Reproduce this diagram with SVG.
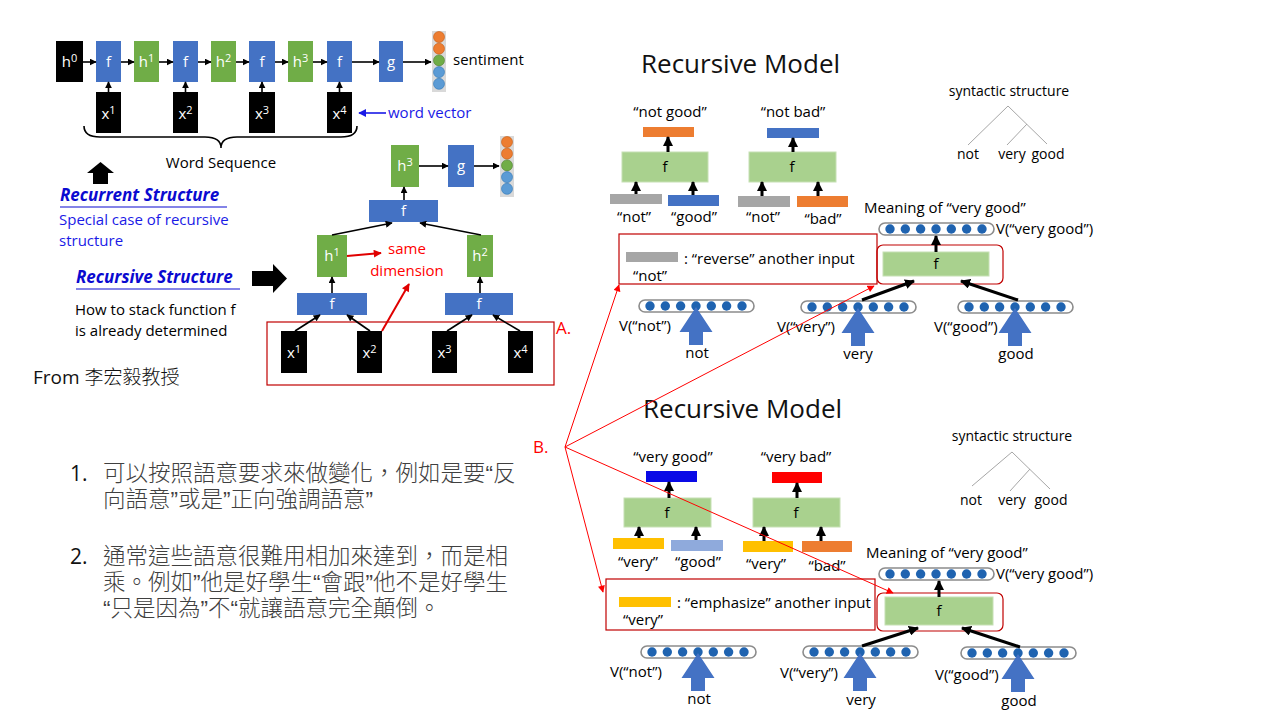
<svg xmlns="http://www.w3.org/2000/svg" xmlns:xlink="http://www.w3.org/1999/xlink" width="1280" height="720" viewBox="0 0 1280 720">
  <style>
    .t { font-family: "Open Sans", "Noto Sans", "Liberation Sans", sans-serif; font-size: 15px; fill: #000; }
    .s14 { font-size: 14px; }
    .w { fill: #fff; text-anchor: middle; }
    .c { text-anchor: middle; }
    .red { fill: #ff0000; }
    .bluet { fill: #1a1ae6; }
    .title { font-family: "Open Sans", "Noto Sans", "Liberation Sans", sans-serif; font-size: 26px; fill: #111; }
    .zh { font-family: "Liberation Sans", "Noto Sans CJK TC", "Noto Sans CJK SC", sans-serif; font-size: 22.5px; fill: #404040; font-weight: 300; }
    .num { font-family: "Open Sans", "Noto Sans", sans-serif; font-size: 21px; fill: #111; }
    .bk { fill: #000; }
    .bl { fill: #4472c4; }
    .gr { fill: #70ad47; }
    .lg { fill: #a9d18e; stroke: #c6e0b4; stroke-width: 1; }
    .k { stroke: #000; stroke-width: 1.6; fill: none; marker-end: url(#ak); }
    .kk { stroke: #000; stroke-width: 3; fill: none; marker-end: url(#akk); }
    .r { stroke: #ff0000; stroke-width: 1; fill: none; marker-end: url(#ar); }
    .rr { stroke: #e00000; stroke-width: 2; fill: none; marker-end: url(#arr); }
    .box { fill: none; stroke: #c00000; stroke-width: 1.2; }
    .tree { stroke: #a6a6a6; stroke-width: 1; fill: none; }
  </style>
  <defs>
    <marker id="ak" viewBox="0 0 10 10" refX="9" refY="5" markerUnits="userSpaceOnUse" markerWidth="7" markerHeight="7" orient="auto">
      <path d="M0,0 L10,5 L0,10 z" fill="#000"/>
    </marker>
    <marker id="akk" viewBox="0 0 10 10" refX="9" refY="5" markerUnits="userSpaceOnUse" markerWidth="10" markerHeight="10" orient="auto">
      <path d="M0,0 L10,5 L0,10 z" fill="#000"/>
    </marker>
    <marker id="ar" viewBox="0 0 10 10" refX="9" refY="5" markerUnits="userSpaceOnUse" markerWidth="8" markerHeight="7" orient="auto">
      <path d="M0,0 L10,5 L0,10 z" fill="#ff0000"/>
    </marker>
    <marker id="arr" viewBox="0 0 10 10" refX="9" refY="5" markerUnits="userSpaceOnUse" markerWidth="9" markerHeight="8" orient="auto">
      <path d="M0,0 L10,5 L0,10 z" fill="#e00000"/>
    </marker>
    <marker id="ab" viewBox="0 0 10 10" refX="9" refY="5" markerUnits="userSpaceOnUse" markerWidth="8" markerHeight="8" orient="auto">
      <path d="M0,0 L10,5 L0,10 z" fill="#1a1ae6"/>
    </marker>
    <!-- vector of seven dots in a rounded pill -->
    <g id="vec">
      <rect x="0" y="0" width="115" height="12" rx="6" fill="#fff" stroke="#8c8c8c" stroke-width="1.6"/>
      <g fill="#1f63b0">
        <circle cx="11" cy="6" r="4.7"/>
        <circle cx="26.3" cy="6" r="4.7"/>
        <circle cx="41.6" cy="6" r="4.7"/>
        <circle cx="57" cy="6" r="4.7"/>
        <circle cx="72.3" cy="6" r="4.7"/>
        <circle cx="87.6" cy="6" r="4.7"/>
        <circle cx="103" cy="6" r="4.7"/>
      </g>
    </g>
    <!-- big upward input arrow, tip at origin -->
    <path id="upArrow" d="M0,0 L16.5,25 L7,25 L7,38 L-7,38 L-7,25 L-16.5,25 Z" fill="#4472c4"/>
    <!-- five-cell output column -->
    <g id="outcol">
      <rect x="-7" y="-6" width="14" height="61" fill="#d9d9d9"/>
      <circle cx="0" cy="0" r="5.5" fill="#ed7d31" stroke="#c55a11" stroke-width="0.6"/>
      <circle cx="0" cy="11.7" r="5.5" fill="#ed7d31" stroke="#c55a11" stroke-width="0.6"/>
      <circle cx="0" cy="23.4" r="5.5" fill="#70ad47" stroke="#507e32" stroke-width="0.6"/>
      <circle cx="0" cy="35.1" r="5.5" fill="#5b9bd5" stroke="#2e75b6" stroke-width="0.6"/>
      <circle cx="0" cy="46.8" r="5.5" fill="#5b9bd5" stroke="#2e75b6" stroke-width="0.6"/>
    </g>
  </defs>

  <rect width="1280" height="720" fill="#fff"/>

  <!-- ===== recurrent chain ===== -->
  <g id="rnn">
    <g id="h0"><rect class="bk" x="56" y="41" width="27" height="41"/><text class="t w" x="69.5" y="67">h<tspan font-size="11" dy="-5">0</tspan></text></g>
    <g id="rf1"><rect class="bl" x="96" y="41" width="25" height="41"/><text class="t w" x="108.5" y="67">f</text></g>
    <g id="rh1"><rect class="gr" x="134" y="41" width="25" height="41"/><text class="t w" x="146.5" y="67">h<tspan font-size="11" dy="-5">1</tspan></text></g>
    <g id="rf2"><rect class="bl" x="173" y="41" width="25" height="41"/><text class="t w" x="185.5" y="67">f</text></g>
    <g id="rh2"><rect class="gr" x="211" y="41" width="25" height="41"/><text class="t w" x="223.5" y="67">h<tspan font-size="11" dy="-5">2</tspan></text></g>
    <g id="rf3"><rect class="bl" x="249" y="41" width="26" height="41"/><text class="t w" x="262" y="67">f</text></g>
    <g id="rh3"><rect class="gr" x="288" y="41" width="25" height="41"/><text class="t w" x="300.5" y="67">h<tspan font-size="11" dy="-5">3</tspan></text></g>
    <g id="rf4"><rect class="bl" x="327" y="41" width="25" height="41"/><text class="t w" x="339.5" y="67">f</text></g>
    <g id="rg"><rect class="bl" x="379" y="41" width="24" height="41"/><text class="t w" x="391" y="67">g</text></g>
    <g id="rout"><use xlink:href="#outcol" x="439" y="37"/></g>
    <g id="rx1"><rect class="bk" x="96" y="92" width="25" height="41"/><text class="t w" x="108.5" y="119">x<tspan font-size="11" dy="-5">1</tspan></text></g>
    <g id="rx2"><rect class="bk" x="173" y="92" width="25" height="41"/><text class="t w" x="185.5" y="119">x<tspan font-size="11" dy="-5">2</tspan></text></g>
    <g id="rx3"><rect class="bk" x="249" y="92" width="26" height="41"/><text class="t w" x="262" y="119">x<tspan font-size="11" dy="-5">3</tspan></text></g>
    <g id="rx4"><rect class="bk" x="327" y="92" width="25" height="41"/><text class="t w" x="339.5" y="119">x<tspan font-size="11" dy="-5">4</tspan></text></g>
    <text class="t" x="453" y="65">sentiment</text>
    <g id="wordvec">
      <line x1="386" y1="113" x2="359" y2="113" stroke="#1a1ae6" stroke-width="1.6" marker-end="url(#ab)"/>
      <text class="t bluet" x="388" y="118">word vector</text>
    </g>
    <g id="brace">
      <path d="M84,126 Q84,137 100,137 L205,137 Q221,137 221,148 Q221,137 237,137 L341,137 Q357,137 357,126" fill="none" stroke="#000" stroke-width="1.6"/>
      <text class="t c" x="221" y="168">Word Sequence</text>
    </g>
  </g>

  <!-- ===== left text ===== -->
  <g id="notes">
    <path d="M100.5,162 L114,173 L108,173 L108,184 L93,184 L93,173 L87,173 Z" fill="#000"/>
    <text x="60" y="201" font-family="'Open Sans', 'Noto Sans', sans-serif" font-size="17" font-weight="bold" font-style="italic" fill="#0a0ad0">Recurrent Structure</text>
    <line x1="60" y1="207" x2="227" y2="207" stroke="#0a0ad0" stroke-width="1.2"/>
    <text class="t bluet" x="59" y="225">Special case of recursive</text>
    <text class="t bluet" x="59" y="246">structure</text>
    <text x="76" y="283" font-family="'Open Sans', 'Noto Sans', sans-serif" font-size="17" font-weight="bold" font-style="italic" fill="#0a0ad0">Recursive Structure</text>
    <line x1="76" y1="289" x2="240" y2="289" stroke="#0a0ad0" stroke-width="1.2"/>
    <path d="M252,271 L273,271 L273,264 L287,278.5 L273,293 L273,286 L252,286 Z" fill="#000"/>
    <text class="t" x="75" y="315">How to stack function f</text>
    <text class="t" x="75" y="336">is already determined</text>
    <text x="33" y="384" font-family="'Open Sans', 'Noto Sans', 'Noto Sans CJK TC', sans-serif" font-size="19" fill="#111">From <tspan font-family="'Noto Sans CJK TC', sans-serif" font-weight="300">李宏毅教授</tspan></text>
  </g>

  <!-- ===== recursive tree ===== -->
  <g id="tree">
    <g id="th3"><rect class="gr" x="391" y="145" width="28" height="42"/><text class="t w" x="405" y="171">h<tspan font-size="11" dy="-5">3</tspan></text></g>
    <g id="tg"><rect class="bl" x="448" y="145" width="26" height="42"/><text class="t w" x="461" y="171">g</text></g>
    <g id="tout"><use xlink:href="#outcol" x="507" y="142"/></g>
    <g id="tfTop"><rect class="bl" x="369" y="200" width="69" height="22"/><text class="t w" x="403.5" y="216">f</text></g>
    <g id="th1"><rect class="gr" x="317" y="235" width="30" height="42"/><text class="t w" x="332" y="261">h<tspan font-size="11" dy="-5">1</tspan></text></g>
    <g id="th2"><rect class="gr" x="467" y="235" width="26" height="42"/><text class="t w" x="480" y="261">h<tspan font-size="11" dy="-5">2</tspan></text></g>
    <g id="tfL"><rect class="bl" x="297" y="293" width="70" height="22"/><text class="t w" x="332" y="309">f</text></g>
    <g id="tfR"><rect class="bl" x="445" y="293" width="68" height="22"/><text class="t w" x="479" y="309">f</text></g>
    <g id="tx1"><rect class="bk" x="281" y="331" width="26" height="42"/><text class="t w" x="294" y="358">x<tspan font-size="11" dy="-5">1</tspan></text></g>
    <g id="tx2"><rect class="bk" x="357" y="331" width="25" height="42"/><text class="t w" x="369.5" y="358">x<tspan font-size="11" dy="-5">2</tspan></text></g>
    <g id="tx3"><rect class="bk" x="432" y="331" width="25" height="42"/><text class="t w" x="444.5" y="358">x<tspan font-size="11" dy="-5">3</tspan></text></g>
    <g id="tx4"><rect class="bk" x="508" y="331" width="25" height="42"/><text class="t w" x="520.5" y="358">x<tspan font-size="11" dy="-5">4</tspan></text></g>
    <g id="boxA"><rect class="box" x="267" y="322" width="287" height="63"/><text x="556" y="334" font-family="'Open Sans', 'Noto Sans', sans-serif" font-size="17" fill="#ff0000">A.</text></g>
    <g id="sameDim">
      <text class="t red c" x="407" y="254">same</text>
      <text class="t red c" x="407" y="276">dimension</text>
    </g>
  </g>

  <!-- ===== upper recursive model ===== -->
  <g id="modelTop">
    <text class="title" x="641" y="73">Recursive Model</text>
    <g id="notGood">
      <text class="t c" x="670" y="117">“not good”</text>
      <rect x="643" y="127" width="51" height="10" fill="#ed7d31"/>
      <rect class="lg" x="622" y="152" width="86" height="30"/>
      <text class="t c" x="665" y="172">f</text>
      <rect x="610" y="194" width="52" height="10" fill="#a6a6a6"/>
      <rect x="668" y="195" width="51" height="11" fill="#4472c4"/>
      <text class="t c" x="634" y="222">“not”</text>
      <text class="t c" x="694" y="222">“good”</text>
    </g>
    <g id="notBad">
      <text class="t c" x="793" y="117">“not bad”</text>
      <rect x="767" y="128" width="52" height="10" fill="#4472c4"/>
      <rect class="lg" x="749" y="152" width="87" height="30"/>
      <text class="t c" x="792" y="172">f</text>
      <rect x="738" y="196" width="52" height="11" fill="#a6a6a6"/>
      <rect x="797" y="196" width="51" height="11" fill="#ed7d31"/>
      <text class="t c" x="763" y="222">“not”</text>
      <text class="t c" x="823" y="224">“bad”</text>
    </g>
    <g id="reverseNote">
      <rect class="box" x="619" y="234" width="258" height="50"/>
      <rect x="626" y="252" width="52" height="10" fill="#a6a6a6"/>
      <text class="t" x="684" y="264">: “reverse” another input</text>
      <text class="t" x="633" y="281">“not”</text>
    </g>
    <g id="syntaxTop">
      <text class="t s14 c" x="1009" y="96">syntactic structure</text>
      <path class="tree" d="M968,145 L1008,106 L1047,144 M1027,124 L1007,145"/>
      <text class="t s14 c" x="968" y="159">not</text>
      <text class="t s14 c" x="1012" y="159">very</text>
      <text class="t s14 c" x="1048" y="159">good</text>
    </g>
    <g id="vNotTop">
      <use xlink:href="#vec" x="639" y="300"/>
      <use xlink:href="#upArrow" x="696" y="307"/>
      <text class="t" x="619" y="331">V(“not”)</text>
      <text class="t c" x="697" y="358">not</text>
    </g>
    <g id="vVeryTop">
      <use xlink:href="#vec" x="801" y="301"/>
      <use xlink:href="#upArrow" x="858" y="308"/>
      <text class="t" x="777" y="332">V(“very”)</text>
      <text class="t c" x="858" y="359">very</text>
    </g>
    <g id="vGoodTop">
      <use xlink:href="#vec" x="958" y="301"/>
      <use xlink:href="#upArrow" x="1015" y="308"/>
      <text class="t" x="934" y="332">V(“good”)</text>
      <text class="t c" x="1016" y="359">good</text>
    </g>
    <g id="fTop">
      <rect x="877" y="245" width="126" height="39" rx="6" fill="none" stroke="#c00000" stroke-width="1.2"/>
      <rect class="lg" x="883" y="252" width="106" height="24"/>
      <text class="t c" x="936" y="269">f</text>
    </g>
    <g id="vVGTop">
      <text class="t" x="864" y="213">Meaning of “very good”</text>
      <use xlink:href="#vec" x="879" y="223"/>
      <text class="t" x="996" y="234">V(“very good”)</text>
    </g>
  </g>

  <!-- ===== lower recursive model ===== -->
  <g id="modelBottom">
    <text class="title" x="643" y="418">Recursive Model</text>
    <g id="veryGood">
      <text class="t c" x="673" y="462">“very good”</text>
      <rect x="646" y="471" width="51" height="11" fill="#0a0ae6"/>
      <rect class="lg" x="624" y="498" width="87" height="29"/>
      <text class="t c" x="667" y="518">f</text>
      <rect x="613" y="538" width="51" height="11" fill="#ffc000"/>
      <rect x="671" y="540" width="52" height="11" fill="#8faadc"/>
      <text class="t c" x="638" y="567">“very”</text>
      <text class="t c" x="698" y="567">“good”</text>
    </g>
    <g id="veryBad">
      <text class="t c" x="796" y="462">“very bad”</text>
      <rect x="772" y="472" width="50" height="11" fill="#ff0000"/>
      <rect class="lg" x="753" y="498" width="87" height="29"/>
      <text class="t c" x="796" y="518">f</text>
      <rect x="743" y="541" width="50" height="11" fill="#ffc000"/>
      <rect x="802" y="541" width="50" height="11" fill="#ed7d31"/>
      <text class="t c" x="766" y="569">“very”</text>
      <text class="t c" x="827" y="571">“bad”</text>
    </g>
    <g id="emphNote">
      <rect class="box" x="606" y="579" width="269" height="51"/>
      <rect x="619" y="597" width="52" height="10" fill="#ffc000"/>
      <text class="t" x="677" y="608">: “emphasize” another input</text>
      <text class="t" x="623" y="625">“very”</text>
    </g>
    <g id="syntaxBottom">
      <text class="t s14 c" x="1012" y="441">syntactic structure</text>
      <path class="tree" d="M972,486 L1012,452 L1050,489 M1030,469 L1010,491"/>
      <text class="t s14 c" x="971" y="505">not</text>
      <text class="t s14 c" x="1012" y="505">very</text>
      <text class="t s14 c" x="1051" y="505">good</text>
    </g>
    <g id="vNotBottom">
      <use xlink:href="#vec" x="641" y="646"/>
      <use xlink:href="#upArrow" x="698" y="653"/>
      <text class="t" x="610" y="677">V(“not”)</text>
      <text class="t c" x="699" y="704">not</text>
    </g>
    <g id="vVeryBottom">
      <use xlink:href="#vec" x="803" y="646"/>
      <use xlink:href="#upArrow" x="860" y="653"/>
      <text class="t" x="780" y="678">V(“very”)</text>
      <text class="t c" x="861" y="705">very</text>
    </g>
    <g id="vGoodBottom">
      <use xlink:href="#vec" x="961" y="647"/>
      <use xlink:href="#upArrow" x="1018" y="654"/>
      <text class="t" x="935" y="680">V(“good”)</text>
      <text class="t c" x="1019" y="706">good</text>
    </g>
    <g id="fBottom">
      <rect x="877" y="593" width="126" height="38" rx="6" fill="none" stroke="#c00000" stroke-width="1.2"/>
      <rect class="lg" x="885" y="597" width="108" height="28"/>
      <text class="t c" x="939" y="616">f</text>
    </g>
    <g id="vVGBottom">
      <text class="t" x="866" y="558">Meaning of “very good”</text>
      <use xlink:href="#vec" x="879" y="568"/>
      <text class="t" x="996" y="579">V(“very good”)</text>
    </g>
  </g>

  <!-- ===== notes in Chinese ===== -->
  <g id="zhNotes">
    <text class="num" x="70" y="481">1.</text>
    <text class="zh"><tspan x="103" y="481">可以按照語意要求來做變化，例如是要“反</tspan><tspan x="103" y="507">向語意”或是”正向強調語意”</tspan></text>
    <text class="num" x="70" y="564">2.</text>
    <text class="zh"><tspan x="103" y="564">通常這些語意很難用相加來達到，而是相</tspan><tspan x="103" y="590">乘。例如”他是好學生“會跟”他不是好學生</tspan><tspan x="103" y="616">“只是因為”不“就讓語意完全顛倒。</tspan></text>
  </g>

  <!-- ===== connectors ===== -->
  <g id="connectors">
    <!-- recurrent chain -->
    <line class="k" x1="83" y1="62" x2="96" y2="62"/>
    <line class="k" x1="121" y1="62" x2="134" y2="62"/>
    <line class="k" x1="159" y1="62" x2="173" y2="62"/>
    <line class="k" x1="198" y1="62" x2="211" y2="62"/>
    <line class="k" x1="236" y1="62" x2="249" y2="62"/>
    <line class="k" x1="275" y1="62" x2="288" y2="62"/>
    <line class="k" x1="313" y1="62" x2="327" y2="62"/>
    <line class="k" x1="352" y1="62" x2="379" y2="62"/>
    <line class="k" x1="403" y1="62" x2="431" y2="62"/>
    <line class="k" x1="108.5" y1="92" x2="108.5" y2="82"/>
    <line class="k" x1="185.5" y1="92" x2="185.5" y2="82"/>
    <line class="k" x1="262" y1="92" x2="262" y2="82"/>
    <line class="k" x1="339.5" y1="92" x2="339.5" y2="82"/>
    <!-- recursive tree -->
    <line class="k" x1="419" y1="166" x2="448" y2="166"/>
    <line class="k" x1="474" y1="166" x2="499" y2="166"/>
    <line class="k" x1="404" y1="200" x2="404" y2="187"/>
    <line class="k" x1="332" y1="235" x2="392" y2="223"/>
    <line class="k" x1="481" y1="235" x2="420" y2="223"/>
    <line class="k" x1="332" y1="293" x2="332" y2="277"/>
    <line class="k" x1="480" y1="293" x2="480" y2="277"/>
    <line class="k" x1="295" y1="331" x2="320" y2="315"/>
    <line class="k" x1="370" y1="331" x2="347" y2="315"/>
    <line class="k" x1="447" y1="331" x2="472" y2="315"/>
    <line class="k" x1="520" y1="331" x2="493" y2="315"/>
    <line class="rr" x1="382" y1="331" x2="409" y2="284"/>
    <line class="rr" x1="347" y1="256" x2="381" y2="253"/>
    <!-- upper model -->
    <line class="kk" x1="668" y1="152" x2="668" y2="137"/>
    <line class="kk" x1="636" y1="194" x2="636" y2="182"/>
    <line class="kk" x1="693" y1="195" x2="693" y2="182"/>
    <line class="kk" x1="793" y1="152" x2="793" y2="138"/>
    <line class="kk" x1="762" y1="196" x2="762" y2="182"/>
    <line class="kk" x1="818" y1="196" x2="818" y2="182"/>
    <line class="kk" x1="862" y1="300" x2="914" y2="281"/>
    <line class="kk" x1="1018" y1="300" x2="961" y2="281"/>
    <line class="kk" x1="936" y1="252" x2="936" y2="236"/>
    <!-- lower model -->
    <line class="kk" x1="669" y1="498" x2="669" y2="482"/>
    <line class="kk" x1="639" y1="538" x2="639" y2="527"/>
    <line class="kk" x1="696" y1="540" x2="696" y2="527"/>
    <line class="kk" x1="797" y1="498" x2="797" y2="483"/>
    <line class="kk" x1="764" y1="541" x2="764" y2="527"/>
    <line class="kk" x1="821" y1="541" x2="821" y2="527"/>
    <line class="kk" x1="862" y1="646" x2="918" y2="628"/>
    <line class="kk" x1="1020" y1="647" x2="962" y2="628"/>
    <line class="kk" x1="939" y1="597" x2="939" y2="581"/>
    <!-- pointers from B. -->
    <line class="r" x1="565" y1="447" x2="619" y2="285"/>
    <line class="r" x1="565" y1="447" x2="874" y2="286"/>
    <line class="r" x1="565" y1="447" x2="893" y2="593"/>
    <line class="r" x1="565" y1="447" x2="603" y2="592"/>
  </g>
  <text x="533" y="453" font-family="'Open Sans', 'Noto Sans', sans-serif" font-size="17" fill="#ff0000">B.</text>
</svg>
